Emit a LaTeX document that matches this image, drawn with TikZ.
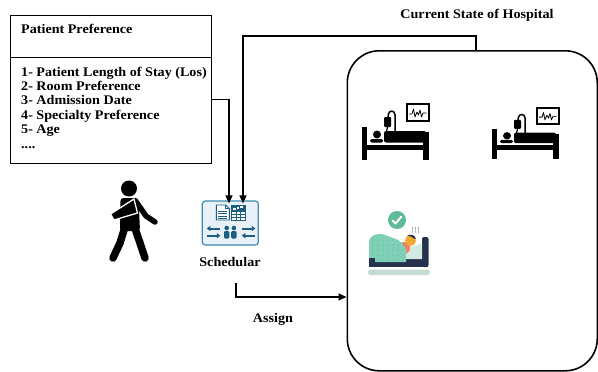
\documentclass[tikz,border=0pt]{standalone}
\usepackage{fontspec}
\setmainfont{Liberation Serif}[FakeStretch=1.07]
\usetikzlibrary{arrows.meta,calc}

\definecolor{schedfill}{HTML}{E7F1F7}
\definecolor{schededge}{HTML}{3E89B0}
\definecolor{scheddark}{HTML}{1D5E80}
\definecolor{checkgreen}{HTML}{5DBB95}
\definecolor{blanket}{HTML}{7FD0B6}
\definecolor{blanketdot}{HTML}{5BB199}
\definecolor{bednavy}{HTML}{26324D}
\definecolor{skin}{HTML}{F3A92E}
\definecolor{gown}{HTML}{EE8068}
\definecolor{sheet}{HTML}{D3EAE0}
\definecolor{slab}{HTML}{C4DDD1}

% hospital bed with monitor and drip, origin at the bottom-left of the headboard
\newcommand\wardbed{%
  \fill (0,0) rectangle (5,-33);
  \fill (61,0) rectangle (67,-28);
  \fill (0,-10) rectangle (67,-15);
  \fill[rounded corners=2pt] (22,-17.5) rectangle (64,-29);
  \fill (15,-25.5) circle (4);
  \fill[rounded corners=1.5pt] (8,-17.5) rectangle (21,-21);
  \fill[rounded corners=1pt] (22,-33) rectangle (29,-43);
  \draw[line width=1.2pt] (25.5,-33) -- (24.5,-28.5);
  \draw[line width=1.5pt] (33,-28.5) -- (33,-45) .. controls (33,-50) and (27,-50) .. (26.5,-46) -- (26,-43);
  \draw[line width=2pt, fill=white] (44.5,-39) rectangle (67,-56);
  \draw[line width=0.8pt, line join=round] (47,-46) -- (50,-46) -- (51.5,-51) -- (53,-43) -- (55,-48)
      -- (56.5,-45) -- (58,-50) -- (59.5,-43) -- (61,-47) -- (64.5,-47);
}

\begin{document}
\begin{tikzpicture}[x=1pt,y=-1pt,
  font=\fontsize{13.2}{14.4}\selectfont\bfseries,
  conn/.style={line width=1.5pt},
  arr/.style={conn,-{Triangle[length=8pt,width=7pt]}},
  lbl/.style={inner sep=0pt},
  tiparrow/.style={line width=2pt, scheddark, -{Triangle[length=3.5pt,width=5pt]}}]
\useasboundingbox (0,0) rectangle (598,372);

% ---------- patient preference card ----------
\node[draw, line width=1pt, minimum width=201pt, minimum height=148pt, inner sep=0pt, anchor=north west] (pp) at (10,15) {};
\draw[line width=1pt] (pp.west |- 0,57) -- (pp.east |- 0,57);
\node[lbl, anchor=base west] (pptitle) at (21,33) {Patient Preference};
% the base of a multi-line node is the baseline of its last line
\node[lbl, anchor=base west, align=left] (pplist) at (21,148) {1- Patient Length of Stay (Los)\\2- Room Preference\\3- Admission Date\\4- Specialty Preference\\5- Age\\....};

% ---------- scheduler ----------
\node[draw=schededge, fill=schedfill, line width=1.2pt, rounded corners=3pt, minimum width=56pt, minimum height=44pt, inner sep=0pt] (sched) at (230.3,223) {};
\begin{scope}[shift={(sched.center)}]
  % document
  \filldraw[draw=scheddark, fill=white, line width=0.9pt, line join=round] (-14,-18) -- (-4.5,-18) -- (-1,-14.5) -- (-1,-3) -- (-14,-3) -- cycle;
  \draw[scheddark, line width=0.9pt] (-4.5,-18) -- (-4.5,-14.5) -- (-1,-14.5);
  \foreach \yy in {-12,-9.5,-7,-4.8} \draw[scheddark, line width=0.8pt] (-12,\yy) -- (-3.5,\yy);
  % timetable
  \filldraw[draw=scheddark, fill=white, line width=0.9pt] (1,-18) rectangle (15,-3);
  \fill[scheddark] (1,-18) rectangle (15,-11.5);
  \fill[white] (3,-13.5) rectangle (5.5,-15.5);
  \fill[white] (6.5,-14.5) rectangle (9,-16.5);
  \fill[white] (10,-15.5) rectangle (13,-17);
  \foreach \xx in {5.7,10.3} \draw[scheddark, line width=0.8pt] (\xx,-11.5) -- (\xx,-3);
  \foreach \yy in {-8.7,-5.9} \draw[scheddark, line width=0.8pt] (1,\yy) -- (15,\yy);
  % swap arrows
  \draw[tiparrow] (-10,5.5) -- (-23.5,5.5);
  \draw[tiparrow] (-23.5,12.7) -- (-10,12.7);
  \draw[tiparrow] (11.5,5.5) -- (25,5.5);
  \draw[tiparrow] (25,12.7) -- (11.5,12.7);
  % people
  \fill[scheddark] (-3.6,5) circle (2.3);
  \fill[scheddark] (3.6,5) circle (2.3);
  \fill[scheddark, rounded corners=1.2pt] (-6.3,8) rectangle (-0.9,15.5);
  \fill[scheddark, rounded corners=1.2pt] (0.9,8) rectangle (6.3,15.5);
\end{scope}
\node[lbl, anchor=base] (schedlbl) at (230,266) {Schedular};

% ---------- hospital ----------
\node[draw, line width=1.6pt, rounded corners=32pt, minimum width=250pt, minimum height=320pt, inner sep=0pt, anchor=north west] (hosp) at (346.5,50) {};
\node[lbl, anchor=base] (hosplbl) at (477,18) {Current State of Hospital};

\begin{scope}[shift={(362,160)}]
  \wardbed
\end{scope}
\begin{scope}[shift={(492,159)}, yscale=0.91]
  \wardbed
\end{scope}

% occupied bed
\fill[slab, rounded corners=2.5pt] (368,269.5) rectangle (430,275);
\fill[bednavy, rounded corners=2pt] (422,237) rectangle (428.5,267);
\fill[bednavy] (369,259) rectangle (428,267);
\fill[sheet] (398,250) -- (422,243.5) -- (422,259) -- (398,259) -- cycle;
\fill[gown] (404,248) circle (6);
\fill[skin] (410.5,240.5) circle (5.5);
\fill[bednavy] (407,236) .. controls (410,233.5) and (415,234.5) .. (416,239) -- (414,238.5) .. controls (412,236) and (409,236) .. (407,236) -- cycle;
\fill[blanket] (369,262) -- (369,243) .. controls (369,235) and (377,232.5) .. (384,234.5)
   -- (392,237.5) .. controls (399,240) and (404,243) .. (406,250) -- (406,262) -- cycle;
\foreach \xx in {373,378,...,403} \foreach \yy in {240,245,...,260}
  \fill[blanketdot] (\xx,\yy) circle (0.6);
\fill[bednavy] (369,258) rectangle (375,267);
\foreach \xx in {412,415,418}
  \draw[gray!75, line width=0.8pt] (\xx,233) to[out=120,in=-120] (\xx,230) to[out=60,in=-60] (\xx,227);
\fill[checkgreen] (397,220) circle (9);
\draw[white, line width=2pt, line cap=round, line join=round] (392.5,220.5) -- (395.5,223.5) -- (401.5,216.5);

% ---------- walking patient with arm sling ----------
\fill (129,188.5) circle (8);
\fill[rounded corners=3pt] (120.5,198) -- (138.5,198) -- (140,231) -- (120,231) -- cycle;
\draw[line width=7.5pt, line cap=round, line join=round] (125,227) -- (120,243) -- (113,258);
\draw[line width=7.5pt, line cap=round, line join=round] (134.5,227) -- (140,243) -- (145,258);
\draw[line width=5.5pt, line cap=round, line join=round] (137,203) -- (146,216) -- (155,222);
\filldraw[draw=white, fill=black, line width=1.3pt, line join=round] (134,199) -- (110.5,214) -- (114,220) -- (137.5,213) -- cycle;

% ---------- connectors ----------
\draw[arr, shorten >=-3pt] ([yshift=-10pt]pp.east) -| ([xshift=-1.3pt]sched.north);
\draw[arr, shorten >=-3pt] ([xshift=3.5pt]hosp.north) -- ++(0,-14) -| ([xshift=12.7pt]sched.north);
\coordinate (asgstart) at (236,283);
\draw[arr] (asgstart) |- (hosp.west |- 0,297);
\node[lbl, anchor=base] (asglbl) at (273,322) {Assign};
\end{tikzpicture}
\end{document}
